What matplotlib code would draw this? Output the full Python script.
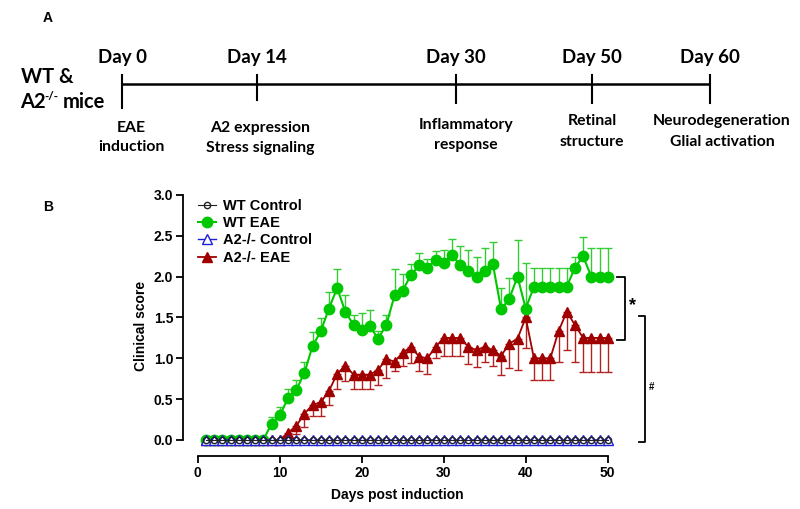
import numpy as np
import matplotlib
matplotlib.use("Agg")
import matplotlib.pyplot as plt
from matplotlib.lines import Line2D

# ---------------- data ----------------
days = np.arange(1, 51)
wt_control = [0.0] * 50
a2_control = [0.0] * 50
wt_eae = [0, 0, 0, 0, 0, 0, 0, 0, 0.20, 0.30,
          0.51, 0.61, 0.82, 1.15, 1.33, 1.61, 1.86, 1.57, 1.41, 1.35,
          1.39, 1.24, 1.41, 1.77, 1.83, 2.02, 2.14, 2.11, 2.21, 2.17,
          2.27, 2.14, 2.07, 1.99, 2.07, 2.15, 1.60, 1.73, 2.00, 1.61,
          1.875, 1.875, 1.875, 1.875, 1.875, 2.11, 2.25, 2.00, 2.00, 2.00]
wt_eae_sem = [0, 0, 0, 0, 0, 0, 0, 0, 0.08, 0.10,
              0.11, 0.13, 0.14, 0.17, 0.16, 0.20, 0.23, 0.20, 0.12, 0.20,
              0.20, 0.10, 0.12, 0.32, 0.20, 0.14, 0.15, 0.11, 0.10, 0.16,
              0.19, 0.24, 0.26, 0.25, 0.28, 0.27, 0.26, 0.25, 0.45, 0.56,
              0.23, 0.23, 0.23, 0.23, 0.23, 0.13, 0.24, 0.35, 0.35, 0.35]
a2_eae = [0, 0, 0, 0, 0, 0, 0, 0, 0.0, 0.0,
          0.09, 0.17, 0.32, 0.43, 0.46, 0.60, 0.81, 0.91, 0.80, 0.80,
          0.80, 0.86, 0.99, 0.96, 1.07, 1.14, 1.02, 1.00, 1.14, 1.25,
          1.25, 1.25, 1.14, 1.10, 1.14, 1.10, 1.03, 1.18, 1.24, 1.50,
          1.00, 1.00, 1.00, 1.33, 1.57, 1.41, 1.25, 1.25, 1.25, 1.25]
a2_eae_sem = [0, 0, 0, 0, 0, 0, 0, 0, 0, 0,
              0.05, 0.10, 0.16, 0.14, 0.17, 0.17, 0.18, 0.19, 0.17, 0.17,
              0.17, 0.19, 0.23, 0.12, 0.17, 0.20, 0.18, 0.19, 0.14, 0.22,
              0.22, 0.22, 0.21, 0.21, 0.18, 0.20, 0.23, 0.30, 0.38, 0.37,
              0.27, 0.27, 0.27, 0.38, 0.47, 0.45, 0.42, 0.42, 0.42, 0.42]
series_labels = ["WT Control", "WT EAE", "A2-/- Control", "A2-/- EAE"]
yticks = [0.0, 0.5, 1.0, 1.5, 2.0, 2.5, 3.0]
xticks = [0, 10, 20, 30, 40, 50]

timeline_days = ["Day 0", "Day 14", "Day 30", "Day 50", "Day 60"]
timeline_events = [["EAE", "induction"], ["A2 expression", "Stress signaling"],
                   ["Inflammatory", "response"], ["Retinal", "structure"],
                   ["Neurodegeneration", "Glial activation"]]

GREEN = "#00c800"
GREEN_E = "#33cc33"
RED = "#a00000"
RED_E = "#b32020"
BLUE = "#1f1fd6"

W, H = 800, 509
fig = plt.figure(figsize=(W / 100, H / 100), dpi=100)

# ---------------- panel A (overlay in pixel coords) ----------------
ov = fig.add_axes([0, 0, 1, 1])
ov.set_xlim(0, W)
ov.set_ylim(H, 0)
ov.axis("off")
ov.set_zorder(-1)
TF = "Lato"
ov.text(43, 18, "A", fontsize=10, fontweight="bold", family="Liberation Sans", va="center")
ov.text(43, 207, "B", fontsize=10, fontweight="bold", family="Liberation Sans", va="center")
ov.text(21, 77, "WT &", fontsize=14.5, fontweight="bold", family=TF, va="center", ha="left")
ov.text(20, 102, "A2", fontsize=14.5, fontweight="bold", family=TF, va="center", ha="left")
ov.text(44, 96, "-/-", fontsize=8.5, fontweight="bold", family=TF, va="center", ha="left")
ov.text(63, 102, "mice", fontsize=14.5, fontweight="bold", family=TF, va="center", ha="left")
tx = [122, 257, 456, 592, 710]
ov.plot([tx[0], tx[-1]], [84, 84], color="black", lw=1.8, solid_capstyle="butt")
tick_bot = [108, 100, 103, 103, 103]
for i, x in enumerate(tx):
    ov.plot([x, x], [75, tick_bot[i]], color="black", lw=1.5)
    ov.text(x, 57, timeline_days[i], fontsize=13.5, fontweight="bold", family=TF,
            ha="center", va="center")
ev_y = [(128, 147), (128, 148), (125, 145), (121, 142), (121, 142)]
ev_x = [131, 260, 466, 592, 722]
for i, lines in enumerate(timeline_events):
    for j, t in enumerate(lines):
        ov.text(ev_x[i], ev_y[i][j], t, fontsize=11.3, fontweight="bold", family=TF,
                ha="center", va="center")

# ---------------- panel B ----------------
x0, x1 = -1.8, 50.5
y0, y1 = -0.2, 3.0
px_left, px_right = 183, 197.7 + 8.2 * 50.5
px_top, px_bot = 195, 456.3
ax = fig.add_axes([px_left / W, 1 - px_bot / H, (px_right - px_left) / W, (px_bot - px_top) / H])
ax.patch.set_alpha(0)
ax.set_xlim(x0, x1)
ax.set_ylim(y0, y1)
for s in ["top", "right"]:
    ax.spines[s].set_visible(False)
ax.spines["left"].set_bounds(0, 3)
ax.spines["bottom"].set_bounds(0, 50)
for s in ["left", "bottom"]:
    ax.spines[s].set_linewidth(1.3)
ax.set_xticks(xticks)
ax.set_yticks(yticks)
ax.set_yticklabels([f"{v:.1f}" for v in yticks])
ax.tick_params(axis="both", width=1.3, length=5, labelsize=10, pad=2)
for lab in ax.get_xticklabels() + ax.get_yticklabels():
    lab.set_fontweight("bold")
    lab.set_family("Liberation Sans")
ax.set_xlabel("Days post induction", fontsize=10, fontweight="bold", family="Liberation Sans", labelpad=6)
ax.set_ylabel("Clinical score", fontsize=10, fontweight="bold", family="Liberation Sans", labelpad=4)

wt_eae_a = np.array(wt_eae)
wt_sem_a = np.array(wt_eae_sem)
a2_eae_a = np.array(a2_eae)
a2_sem_a = np.array(a2_eae_sem)

m = wt_sem_a > 0
ax.errorbar(days[m], wt_eae_a[m], yerr=[np.zeros(m.sum()), wt_sem_a[m]], fmt="none",
            ecolor=GREEN_E, elinewidth=1.0, capsize=2.8, capthick=1.0, zorder=2, clip_on=False)
m2 = a2_sem_a > 0
ax.errorbar(days[m2], a2_eae_a[m2], yerr=[a2_sem_a[m2], np.zeros(m2.sum())], fmt="none",
            ecolor=RED_E, elinewidth=1.0, capsize=2.8, capthick=1.0, zorder=2, clip_on=False)

ax.plot(days, a2_eae, color=RED, lw=1.3, marker="^", ms=7, mec=RED, mfc=RED, zorder=3, clip_on=False)
ax.plot(days, wt_eae, color=GREEN, lw=1.5, marker="o", ms=7.5, mec=GREEN, mfc=GREEN, zorder=4, clip_on=False)
ax.plot(days, a2_control, color=BLUE, lw=1.2, marker="^", ms=6.5, mec=BLUE, mfc="white",
        mew=1.0, zorder=5, clip_on=False)
ax.plot(days, wt_control, color="#222222", lw=0.8, marker="o", ms=4.5, mec="#222222", mfc="none",
        mew=1.0, zorder=6, clip_on=False)

handles = [
    Line2D([], [], color="#222222", lw=0.8, marker="o", ms=4.5, mfc="none", mec="#222222"),
    Line2D([], [], color=GREEN, lw=1.5, marker="o", ms=7.5, mfc=GREEN, mec=GREEN),
    Line2D([], [], color=BLUE, lw=1.0, marker="^", ms=7, mfc="white", mec=BLUE),
    Line2D([], [], color=RED, lw=1.3, marker="^", ms=7, mfc=RED, mec=RED),
]
leg = ax.legend(handles, series_labels, loc="upper left", bbox_to_anchor=(0.005, 1.035),
                frameon=False, handlelength=1.2, handletextpad=0.5, labelspacing=0.22,
                prop={"family": "Liberation Sans", "weight": "bold", "size": 10.5})

# significance brackets
ax.plot([51.1, 52.1, 52.1, 51.1], [2.0, 2.0, 1.22, 1.22], color="black", lw=1.3, clip_on=False)
ax.text(53.0, 1.64, "*", fontsize=13, fontweight="bold", ha="center", va="center",
        family="Liberation Sans")
ax.plot([53.8, 54.6, 54.6, 53.8], [1.52, 1.52, -0.02, -0.02], color="black", lw=1.3, clip_on=False)
ax.text(55.4, 0.65, "#", fontsize=7, fontweight="bold", ha="center", va="center",
        family="Liberation Sans")

fig.savefig("out.png", dpi=100)
